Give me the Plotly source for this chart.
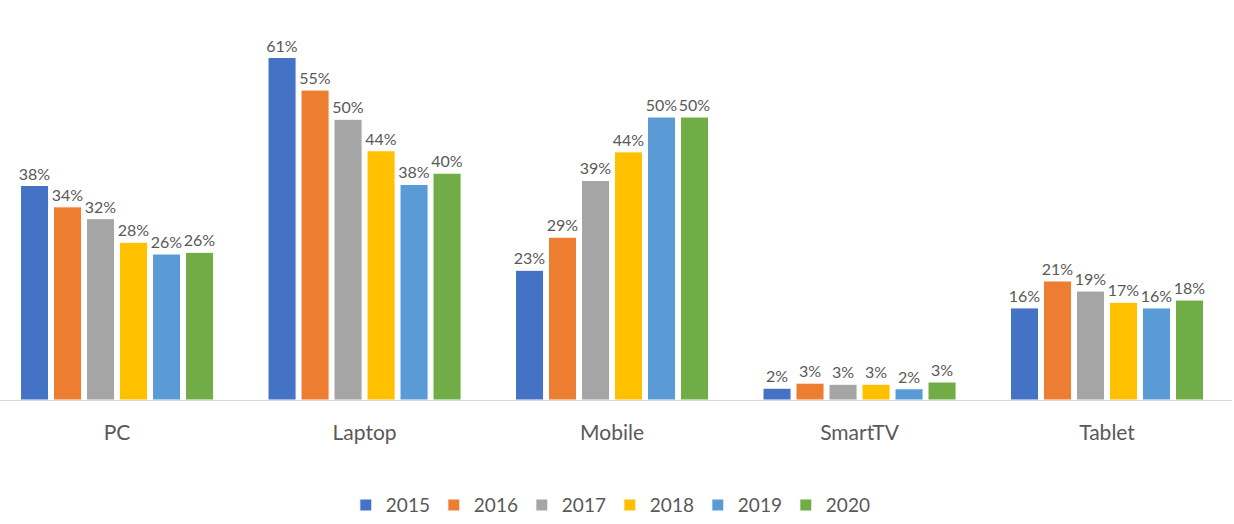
import plotly.graph_objects as go

categories = ["PC", "Laptop", "Mobile", "SmartTV", "Tablet"]
years = ["2015", "2016", "2017", "2018", "2019", "2020"]
v2015 = [38.2, 61.0, 23.1, 2.1, 16.4]
v2016 = [34.4, 55.2, 29.0, 3.0, 21.2]
v2017 = [32.3, 50.0, 39.1, 2.8, 19.4]
v2018 = [28.1, 44.4, 44.2, 2.8, 17.4]
v2019 = [26.0, 38.4, 50.4, 2.0, 16.4]
v2020 = [26.3, 40.4, 50.4, 3.2, 17.8]
series = [v2015, v2016, v2017, v2018, v2019, v2020]
colors = ["#4472C4", "#ED7D31", "#A5A5A5", "#FFC000", "#5B9BD5", "#70AD47"]

fig = go.Figure()
for name, vals, col in zip(years, series, colors):
    fig.add_trace(go.Bar(
        x=categories, y=vals, name=name,
        marker=dict(color=col, line=dict(color="white", width=1)),
        texttemplate="%{y:.0f}%", textposition="outside",
        textfont=dict(size=16, color="#595959", family="Lato"),
        constraintext="none", cliponaxis=False,
    ))

fig.update_layout(
    width=1234, height=524,
    margin=dict(l=0, r=2, t=7, b=124),
    paper_bgcolor="white", plot_bgcolor="white",
    barmode="group", bargap=0.2, bargroupgap=0.15,
    font=dict(family="Lato", color="#595959"),
    showlegend=True,
    legend=dict(orientation="h", x=0.495, xanchor="center",
                yref="container", y=0.036, yanchor="middle",
                font=dict(size=19, color="#595959"),
                itemwidth=30, entrywidth=43, entrywidthmode="pixels",
                traceorder="normal"),
)
fig.update_xaxes(range=[-0.473, 4.505], showline=True, linecolor="#D9D9D9",
                 linewidth=1, ticks="", tickfont=dict(size=21, color="#595959"),
                 ticklabelstandoff=14, showgrid=False)
fig.update_yaxes(range=[0, 70], visible=False, showgrid=False, zeroline=False)

fig.write_html("out.html")
